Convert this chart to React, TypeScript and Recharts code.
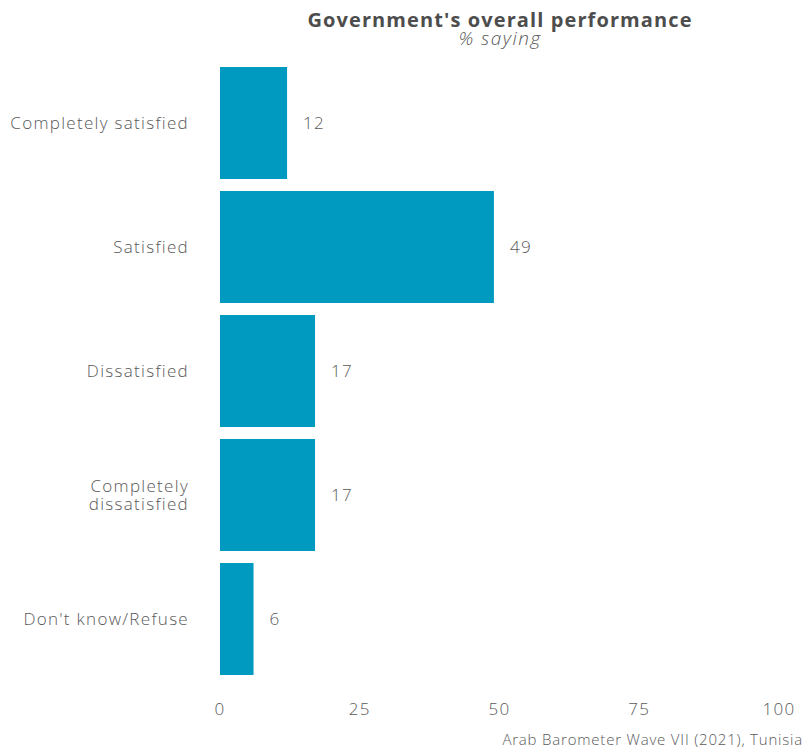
import React from "react";
import { BarChart, Bar, XAxis, YAxis, LabelList } from "recharts";

const categories = [
  "Completely satisfied",
  "Satisfied",
  "Dissatisfied",
  "Completely dissatisfied",
  "Don't know/Refuse",
];
const values = [12, 49, 17, 17, 6];
const xTicks = [0, 25, 50, 75, 100];

const labelLines: Record<string, string[]> = {
  "Completely dissatisfied": ["Completely", "dissatisfied"],
};

const data = categories.map((c, i) => ({ category: c, value: values[i] }));

const FONT = "'Open Sans', sans-serif";
const GRAY = "#595959";
const LS = 1.3;

const YTick = (props: any) => {
  const { x, y, payload } = props;
  const lines = labelLines[payload.value] || [payload.value];
  const lh = 18;
  const start = -((lines.length - 1) * lh) / 2;
  return (
    <g>
      {lines.map((l, i) => (
        <text
          key={i}
          x={x}
          y={y + start + i * lh + 6}
          textAnchor="end"
          fill={GRAY}
          fontFamily={FONT}
          fontSize={17}
          fontWeight={300}
          letterSpacing={LS}
        >
          {l}
        </text>
      ))}
    </g>
  );
};

export default function App() {
  return (
    <div style={{ position: "absolute", left: 0, top: 0, width: 809, height: 750 }}>
      <BarChart
        width={809}
        height={750}
        data={data}
        layout="vertical"
        margin={{ top: 61, right: 30, bottom: 0, left: 0 }}
        barCategoryGap="4.8%"
      >
        <XAxis
          type="number"
          domain={[0, 100]}
          ticks={xTicks}
          axisLine={false}
          tickLine={false}
          tickSize={0}
          tickMargin={22}
          tick={{ fill: GRAY, fontFamily: FONT, fontSize: 17, fontWeight: 300, letterSpacing: LS }}
          height={69}
        />
        <YAxis
          type="category"
          dataKey="category"
          width={220}
          axisLine={false}
          tickLine={false}
          tickSize={0}
          tickMargin={31}
          tick={<YTick />}
          interval={0}
        />
        <Bar dataKey="value" fill="#009AC1" isAnimationActive={false}>
          <LabelList
            dataKey="value"
            position="right"
            offset={16}
            fill={GRAY}
            fontFamily={FONT}
            fontSize={17}
            fontWeight={300}
            letterSpacing={LS}
          />
        </Bar>
        <text
          x={500}
          y={27}
          textAnchor="middle"
          fill="#4d4d4d"
          fontFamily={FONT}
          fontSize={20}
          fontWeight={700}
          letterSpacing={1.1}
        >
          Government's overall performance
        </text>
        <text
          x={500}
          y={45}
          textAnchor="middle"
          fill={GRAY}
          fontFamily={FONT}
          fontSize={19}
          fontStyle="italic"
          fontWeight={300}
          letterSpacing={1.5}
        >
          % saying
        </text>
        <text
          x={803}
          y={745}
          textAnchor="end"
          fill={GRAY}
          fontFamily={FONT}
          fontSize={15}
          fontWeight={300}
          letterSpacing={0.8}
        >
          Arab Barometer Wave VII (2021), Tunisia
        </text>
      </BarChart>
    </div>
  );
}
